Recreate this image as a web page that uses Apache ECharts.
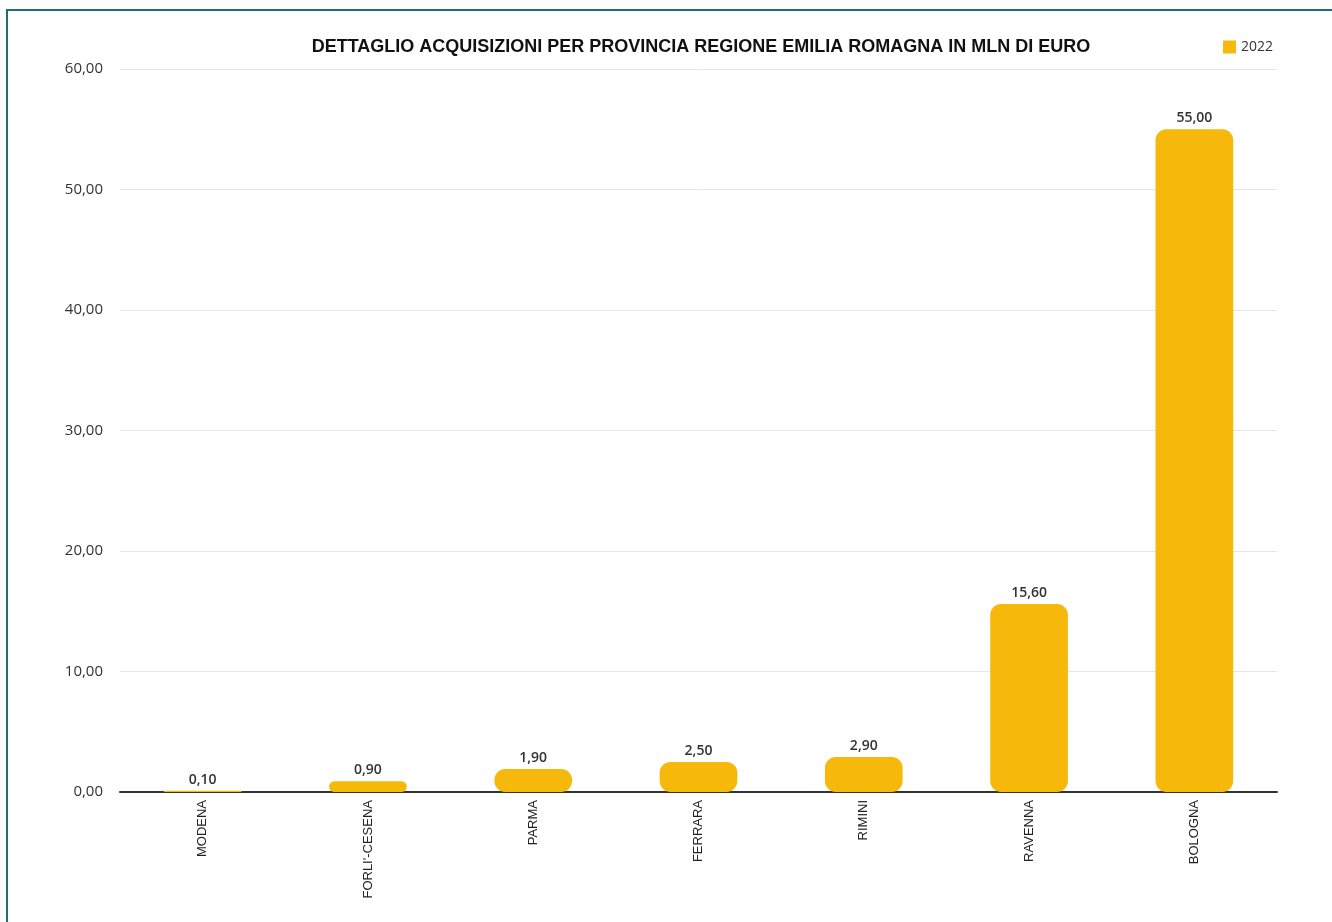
<!DOCTYPE html>
<html>
<head>
<meta charset="utf-8">
<script src="https://cdn.jsdelivr.net/npm/echarts@6/dist/echarts.min.js"></script>
<style>
html,body{margin:0;padding:0;background:#fff;}
#chart{width:1332px;height:922px;}
</style>
</head>
<body>
<div id="chart"></div>
<script>
const titleText = 'DETTAGLIO ACQUISIZIONI PER PROVINCIA REGIONE EMILIA ROMAGNA IN MLN DI EURO';
const categories = ['MODENA', "FORLI'-CESENA", 'PARMA', 'FERRARA', 'RIMINI', 'RAVENNA', 'BOLOGNA'];
const values2022 = [0.10, 0.90, 1.90, 2.50, 2.90, 15.60, 55.00];
const seriesName = '2022';
const yTicks = [0, 10, 20, 30, 40, 50, 60];

const fmt = v => v.toFixed(2).replace('.', ',');

const chart = echarts.init(document.getElementById('chart'));
chart.setOption({
  animation: false,
  backgroundColor: '#ffffff',
  textStyle: { fontFamily: '"Open Sans", Lato, sans-serif' },
  title: {
    text: titleText,
    left: 696,
    textAlign: 'center',
    top: 33,
    textStyle: { fontFamily: '"Liberation Sans", Arial, sans-serif', fontWeight: 'bold', fontSize: 18, color: '#111' }
  },
  legend: {
    data: [seriesName],
    right: 54,
    top: 35,
    itemWidth: 13,
    itemHeight: 13,
    icon: 'rect',
    itemGap: 12,
    textStyle: { fontSize: 14, color: '#333', fontFamily: '"Open Sans", sans-serif' }
  },
  grid: { left: 120, right: 55, top: 69, bottom: 130, containLabel: false },
  xAxis: {
    type: 'category',
    data: categories,
    axisLine: { lineStyle: { color: '#333', width: 2 } },
    axisTick: { show: false },
    axisLabel: { rotate: 90, fontSize: 13, color: '#222', margin: 8, fontFamily: '"Liberation Sans", Arial, sans-serif' }
  },
  yAxis: {
    type: 'value',
    min: yTicks[0],
    max: yTicks[yTicks.length - 1],
    interval: 10,
    axisLine: { show: false },
    axisTick: { show: false },
    splitLine: { lineStyle: { color: '#ece3e3', width: 1 } },
    axisLabel: { formatter: v => fmt(v), fontSize: 15, color: '#333', margin: 17, fontFamily: '"Open Sans", sans-serif' }
  },
  series: [{
    name: seriesName,
    type: 'bar',
    data: values2022,
    barWidth: '47%',
    itemStyle: { color: '#F6B80A', borderRadius: 11 },
    label: {
      show: true,
      position: 'top',
      distance: 4,
      formatter: p => fmt(p.value),
      fontSize: 14,
      fontWeight: 600,
      color: '#333',
      fontFamily: '"Open Sans", sans-serif'
    }
  }],
  graphic: [
    { type: 'rect', shape: { x: 6, y: 9, width: 1340, height: 2 }, style: { fill: '#1f6c7c' } },
    { type: 'rect', shape: { x: 6, y: 9, width: 2, height: 920 }, style: { fill: '#1f6c7c' } }
  ]
});
</script>
</body>
</html>
